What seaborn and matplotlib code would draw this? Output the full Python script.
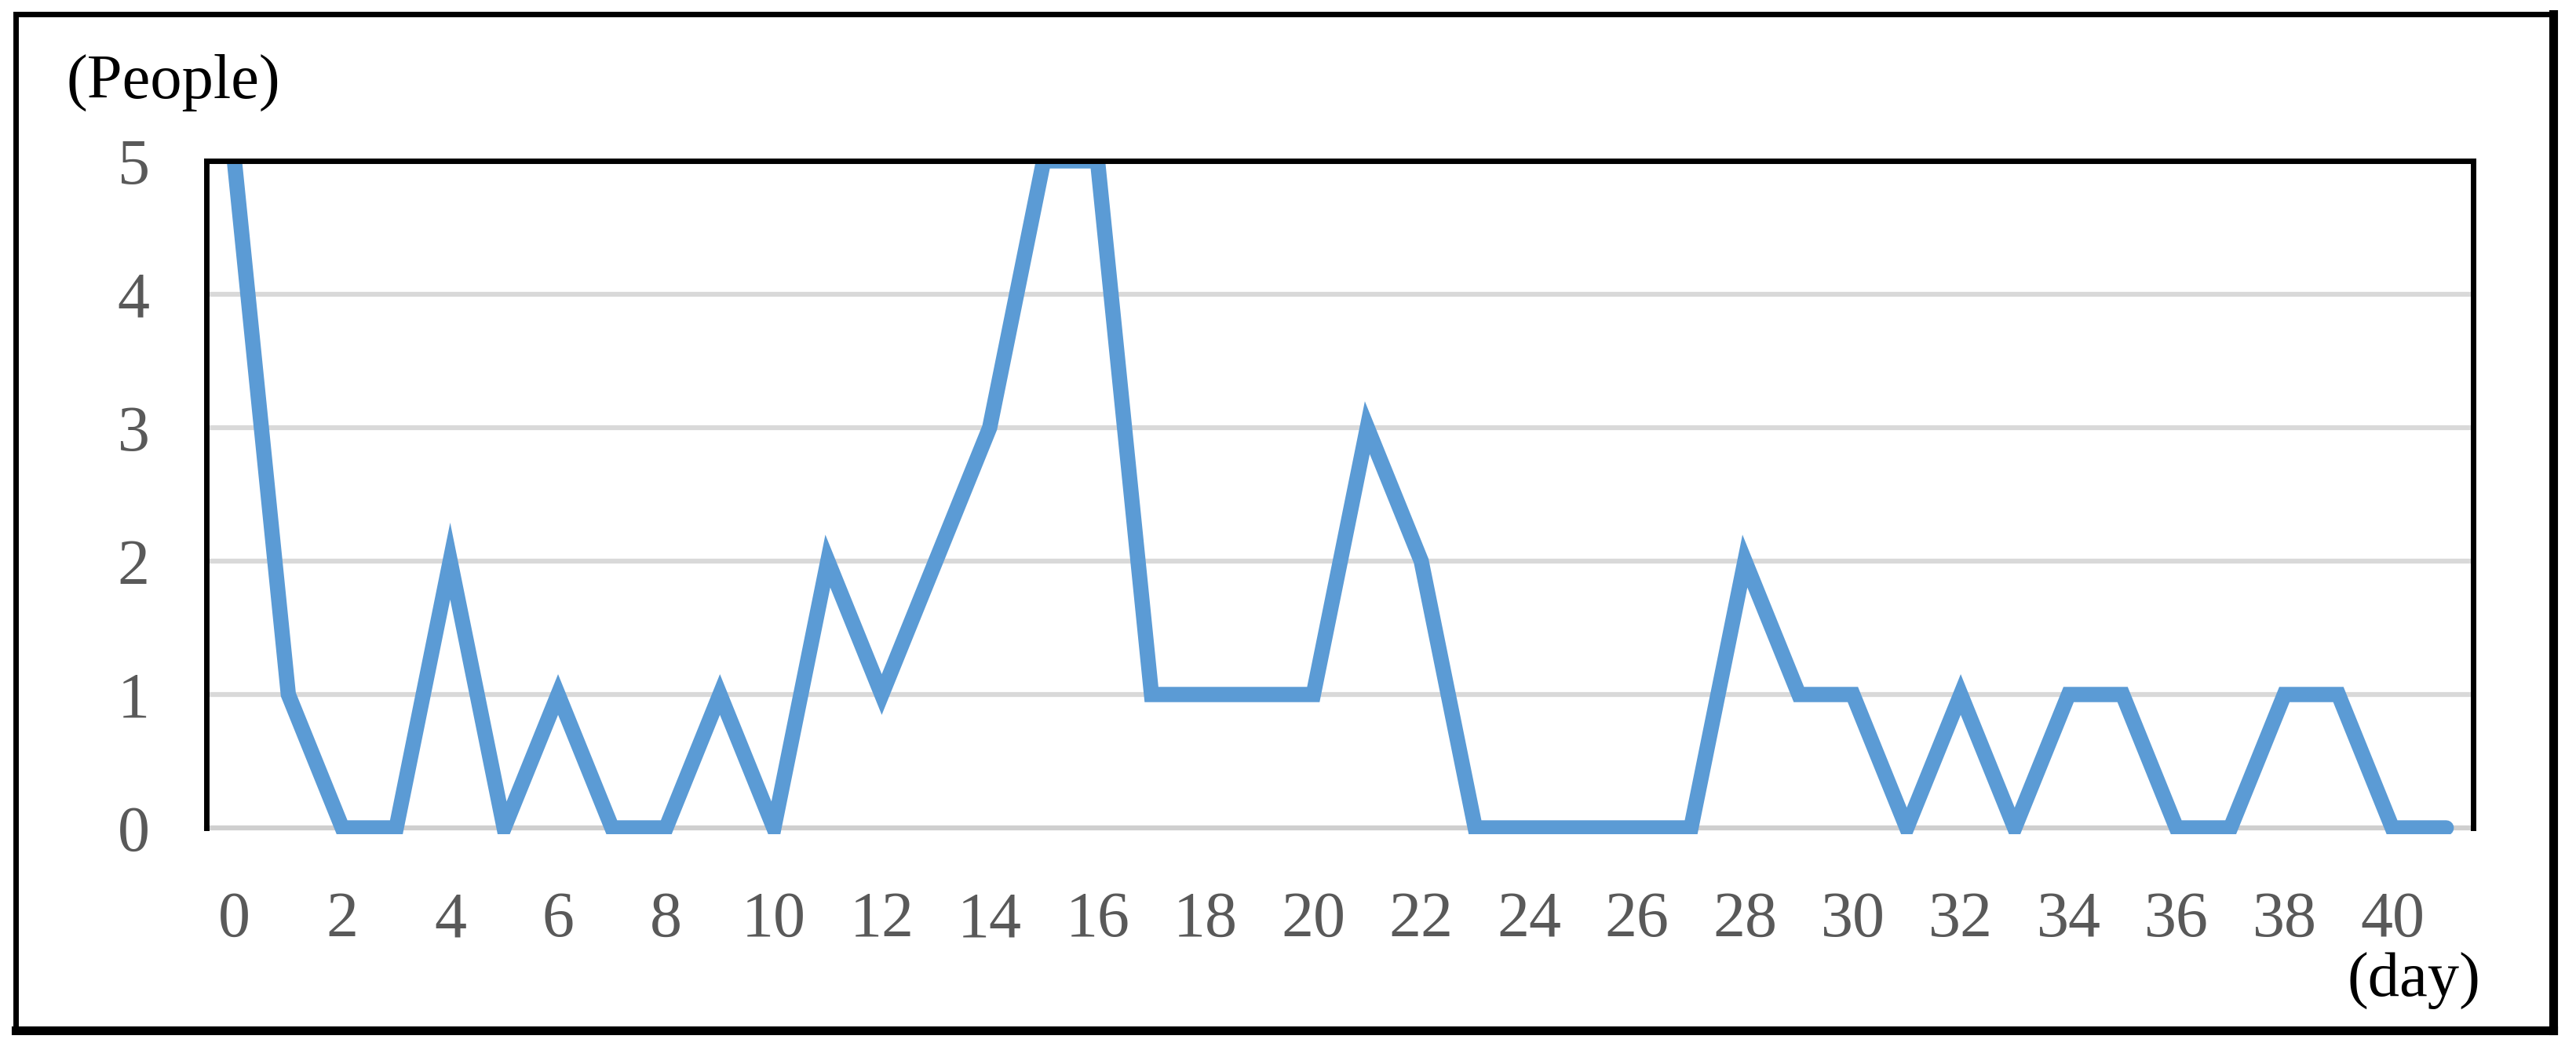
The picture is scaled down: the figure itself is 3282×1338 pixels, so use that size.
import matplotlib
matplotlib.use("Agg")
from matplotlib import pyplot as plt
from matplotlib.lines import Line2D
from matplotlib.patches import Rectangle
import pandas as pd
import seaborn as sns

days = list(range(42))
people = [5, 1, 0, 0, 2, 0, 1, 0, 0, 1,
          0, 2, 1, 2, 3, 5, 5, 1, 1, 1,
          1, 3, 2, 0, 0, 0, 0, 0, 2, 1,
          1, 0, 1, 0, 1, 1, 0, 0, 1, 1,
          0, 0]
xticks = list(range(0, 41, 2))
yticks = [0, 1, 2, 3, 4, 5]

df = pd.DataFrame({"day": days, "people": people})

sns.set_style("white")
plt.rcParams["font.family"] = ["Liberation Serif", "DejaVu Serif"]

fig = plt.figure(figsize=(32.82, 13.38), dpi=100)
ax = fig.add_axes([0.0801, 0.2115, 0.88, 0.6353])

sns.lineplot(data=df, x="day", y="people", ax=ax, color="#5B9BD5", linewidth=14,
             solid_capstyle="round", solid_joinstyle="miter", zorder=2)

# clip at the plot area, leaving a few pixels below the baseline
clip = Rectangle((-0.05, -0.009), 1.1, 1.009, transform=ax.transAxes)
for ln in ax.get_lines():
    ln.set_clip_path(clip)

ax.set_xlim(-0.52, 41.5)
ax.set_ylim(0, 5)
ax.set_xticks(xticks)
ax.set_yticks(yticks)
ax.set_xlabel("")
ax.set_ylabel("")
ax.grid(axis="y", color="#D9D9D9", linewidth=4.5)
ax.set_axisbelow(True)
ax.tick_params(axis="both", length=0, labelsize=59, labelcolor="#595959")
ax.tick_params(axis="y", pad=52)
ax.tick_params(axis="x", pad=58)

for side in ["left", "top", "right"]:
    ax.spines[side].set_color("black")
    ax.spines[side].set_linewidth(5)
    ax.spines[side].set_zorder(3)
ax.spines["bottom"].set_color("#CFCFCF")
ax.spines["bottom"].set_linewidth(4.5)
ax.spines["bottom"].set_zorder(1)

fig.text(0.0256, 0.9215, "(People)", fontsize=58, color="black", ha="left", va="center")
fig.text(0.9628, 0.0658, "(day)", fontsize=58, color="black", ha="right", va="center")

# outer frame around the whole chart
W, H = 3282, 1338
kw = dict(color="black", solid_capstyle="projecting")
fig.add_artist(Line2D([20 / W, 20 / W], [1 - 18 / H, 1 - 1313 / H], linewidth=5, **kw))
fig.add_artist(Line2D([20 / W, 3253 / W], [1 - 18 / H, 1 - 18 / H], linewidth=5, **kw))
fig.add_artist(Line2D([3253 / W, 3253 / W], [1 - 18 / H, 1 - 1313 / H], linewidth=8, **kw))
fig.add_artist(Line2D([20 / W, 3253 / W], [1 - 1313 / H, 1 - 1313 / H], linewidth=8, **kw))

fig.savefig("out.png", dpi=100, facecolor="white")
